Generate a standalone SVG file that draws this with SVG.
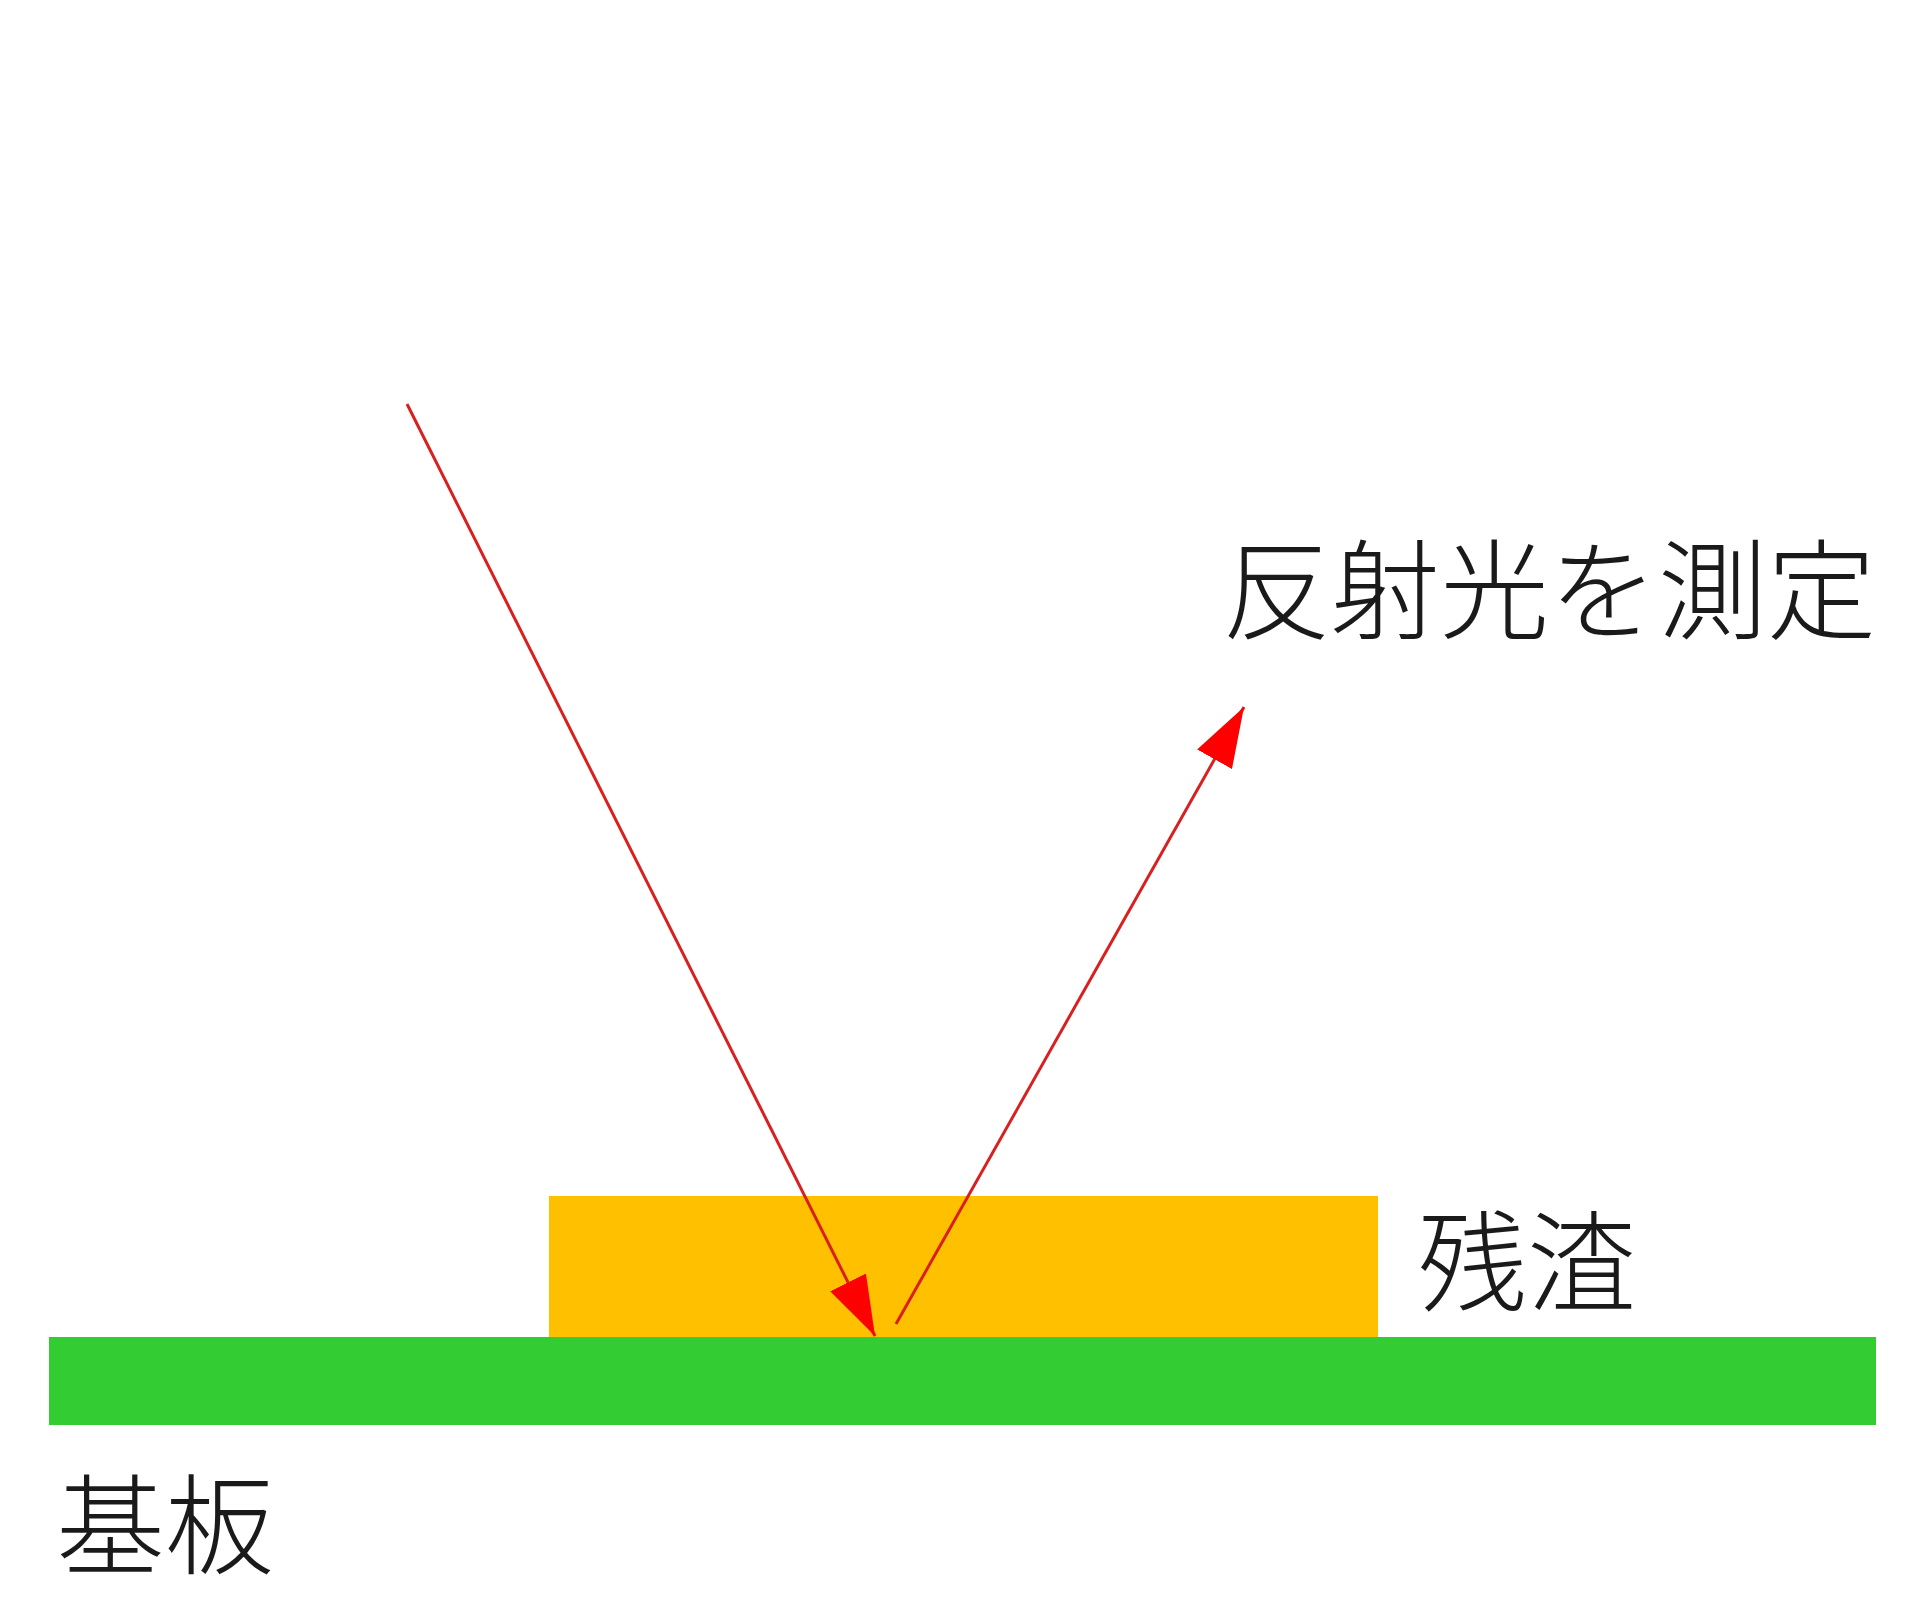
<svg xmlns="http://www.w3.org/2000/svg" width="1920" height="1618" viewBox="0 0 1920 1618">
<style>
.lbl{font-family:"Noto Sans CJK JP","Noto Sans CJK SC",sans-serif;font-size:109px;font-weight:300;fill:#1a1a1a}
.ray{stroke:#d92020;stroke-width:3;fill:none}
</style>
<defs>
<marker id="ah" viewBox="0 0 60 40" refX="60" refY="20" markerWidth="60" markerHeight="40" markerUnits="userSpaceOnUse" orient="auto">
<path d="M0,0 L60,20 L0,40 Z" fill="#ff0000"/>
</marker>
</defs>
<rect width="1920" height="1618" fill="#ffffff"/>
<g id="residue"><rect x="549" y="1196" width="829" height="142" fill="#ffc000"/></g>
<g id="substrate"><rect x="49" y="1337" width="1827" height="88" fill="#33cc33"/></g>
<g id="connectors">
<line class="ray" x1="407" y1="404" x2="875" y2="1336" marker-end="url(#ah)"/>
<line class="ray" x1="896" y1="1324" x2="1244" y2="707" marker-end="url(#ah)"/>
</g>
<g id="label-reflect"><text class="lbl" x="1222" y="631">反射光を測定</text></g>
<g id="label-residue"><text class="lbl" x="1418" y="1303">残渣</text></g>
<g id="label-substrate"><text class="lbl" x="56" y="1566">基板</text></g>
</svg>
